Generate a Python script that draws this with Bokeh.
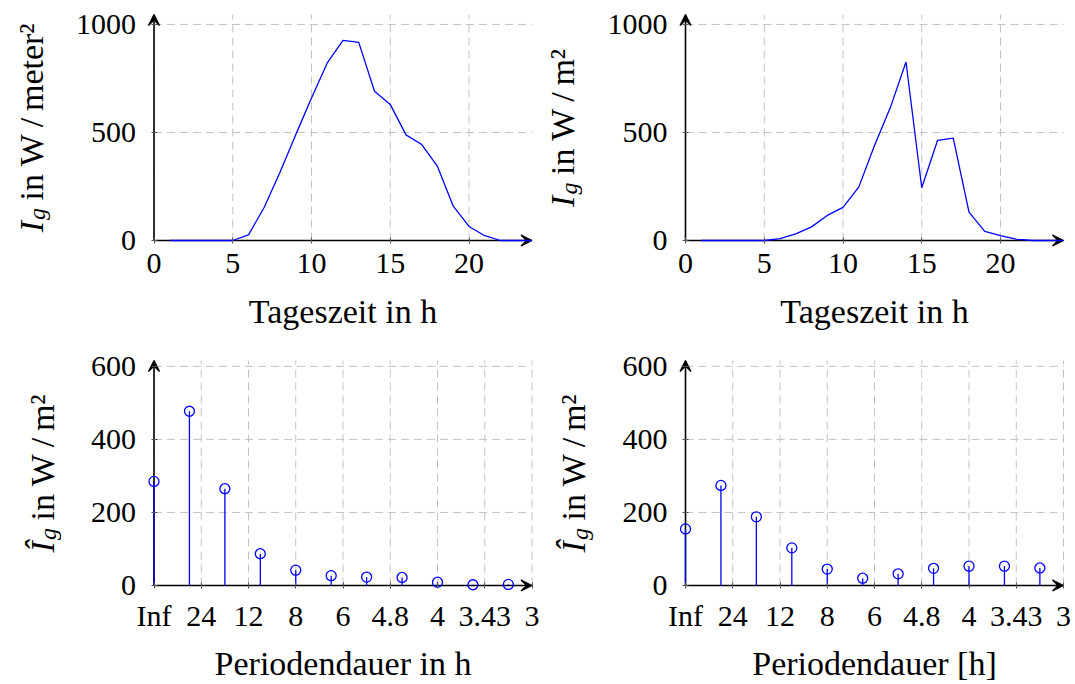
import math
from bokeh.plotting import figure
from bokeh.layouts import column, row
from bokeh.models import Label, Arrow, VeeHead, FixedTicker, Range1d
from bokeh.embed import file_html
from bokeh.resources import INLINE

# ---------------- data ----------------
hours = list(range(1, 25))
irr_clear = [0, 0, 0, 0, 0, 26, 154, 316, 490, 660, 822, 926, 917, 691, 630, 489, 444, 343, 159, 65, 22, 0, 0, 0]
irr_cloudy = [0, 0, 0, 0, 0, 9, 31, 63, 116, 153, 247, 440, 614, 826, 244, 463, 474, 131, 42, 23, 6, 0, 0, 0]

stem_freq = [0.0, 0.03125, 0.0625, 0.09375, 0.125, 0.15625, 0.1875, 0.21875, 0.25, 0.28125, 0.3125]
amp_clear = [285, 477, 265, 87, 42, 27, 23, 22, 9, 2, 3]
amp_cloudy = [155, 274, 188, 103, 45, 20, 32, 47, 53, 53, 48]

time_ticks = [0, 5, 10, 15, 20]
irr_ticks = [0, 500, 1000]
amp_ticks = [0, 200, 400, 600]
period_ticks = [0.0, 1 / 24, 2 / 24, 3 / 24, 4 / 24, 5 / 24, 6 / 24, 7 / 24, 8 / 24]
period_labels = ["Inf", "24", "12", "8", "6", "4.8", "4", "3.43", "3"]

# ---------------- style ----------------
FONT = "Liberation Serif"
TICK_SIZE = "30px"
LABEL_SIZE = 34
BLUE = "#0000ff"
GRID = "#c2c2c2"
THIN = "\u2009"
BASE_FIX = 12  # empirical offset between requested and rendered text baseline

# approximate advance widths (per 1000 em) to lay out the composite y labels
ROMAN_W = {" ": 250, "i": 278, "n": 500, "W": 944, "/": 278, "m": 778, "e": 444,
           "t": 278, "r": 333, "\u00b2": 300, THIN: 203}


def text_width(s, size):
    return sum(ROMAN_W.get(c, 500) for c in s) * size / 1000.0


def panel(cw, ch, ox, oy, axis_w, axis_h, xmax, ymax, xticks, yticks):
    """cw, ch: canvas size; ox, oy: canvas pixel of the data origin (oy from top);
    axis_w, axis_h: pixel size of the data area."""
    sx = axis_w / xmax
    sy = axis_h / ymax
    xr = Range1d(-ox / sx, (cw - ox) / sx)
    yr = Range1d(-(ch - oy) / sy, oy / sy)
    p = figure(width=cw, height=ch, x_range=xr, y_range=yr,
               output_backend="svg", toolbar_location=None,
               min_border_left=0, min_border_right=0, min_border_top=0, min_border_bottom=0)
    p.outline_line_color = None
    p.background_fill_color = "white"
    p.border_fill_color = "white"
    p.grid.visible = False

    # dashed grid restricted to the data area
    p.segment(x0=xticks, y0=0, x1=xticks, y1=ymax, line_color=GRID, line_dash="8 5",
              line_width=1, level="underlay")
    p.segment(x0=0, y0=yticks, x1=xmax, y1=yticks, line_color=GRID, line_dash="8 5",
              line_width=1, level="underlay")

    p.xaxis.ticker = FixedTicker(ticks=xticks)
    p.yaxis.ticker = FixedTicker(ticks=yticks)
    p.xaxis.fixed_location = 0
    p.yaxis.fixed_location = 0
    p.xaxis.bounds = (0, xmax * 1.0001)
    p.yaxis.bounds = (0, ymax)
    for ax in (p.xaxis, p.yaxis):
        ax.axis_line_color = None
        ax.major_tick_line_color = "#555555"
        ax.major_tick_in = 3
        ax.major_tick_out = 3
        ax.minor_tick_line_color = None
        ax.major_label_text_font = FONT
        ax.major_label_text_font_size = TICK_SIZE
        ax.major_label_text_color = "black"
    p.xaxis.major_label_standoff = 10
    p.yaxis.major_label_standoff = 15

    head = dict(size=11, line_color="black", fill_color="black", line_width=1.3)
    p.add_layout(Arrow(end=VeeHead(**head), x_start=0, y_start=0, x_end=xmax, y_end=0,
                       line_color="black", line_width=1.6, level="underlay"))
    p.add_layout(Arrow(end=VeeHead(**head), x_start=0, y_start=0, x_end=0, y_end=ymax,
                       line_color="black", line_width=1.6, level="underlay"))
    return p


def add_labels(p, ox, oy, ch, axis_w, axis_h, xlabel, xlabel_base, sym, unit_text, ylabel_dx):
    # x label: centred under the data area, baseline xlabel_base px below the x axis
    p.add_layout(Label(x=ox + axis_w / 2, y=ch - oy - xlabel_base + BASE_FIX,
                       x_units="screen", y_units="screen",
                       text=xlabel, text_align="center", text_baseline="alphabetic",
                       text_font=FONT, text_font_size=f"{LABEL_SIZE}px", text_color="black"))
    sub_size = round(LABEL_SIZE * 0.7)
    w_sym = 0.333 * LABEL_SIZE
    w_sub = 0.5 * sub_size
    w_space = 0.25 * LABEL_SIZE
    main = "in W" + THIN + "/" + THIN + unit_text
    w_main = text_width(main, LABEL_SIZE)
    total = w_sym + w_sub + w_space + w_main
    centre = (ch - oy) + axis_h / 2
    y0 = centre - total / 2
    bx = ox - ylabel_dx - BASE_FIX
    common = dict(x_units="screen", y_units="screen", angle=math.pi / 2, text_align="left",
                  text_baseline="alphabetic", text_font=FONT, text_color="black")
    p.add_layout(Label(x=bx, y=y0, text=sym, text_font_style="italic",
                       text_font_size=f"{LABEL_SIZE}px", **common))
    p.add_layout(Label(x=bx + 6, y=y0 + w_sym + 1, text="g", text_font_style="italic",
                       text_font_size=f"{sub_size}px", **common))
    p.add_layout(Label(x=bx, y=y0 + w_sym + w_sub + w_space, text=main,
                       text_font_size=f"{LABEL_SIZE}px", **common))


LW, RW = 540, 535
TH, BH = 340, 344
AW = 378             # data-area width
TAH, BAH = 226, 225  # data-area heights
LOX, ROX = 153.5, 145.0
TOY, BOY = 240.0, 245.0

# ---- top left ----
p1 = panel(LW, TH, LOX, TOY, AW, TAH, 24, 1046, time_ticks, irr_ticks)
p1.line(hours, irr_clear, line_color=BLUE, line_width=1.3)
add_labels(p1, LOX, TOY, TH, AW, TAH, "Tageszeit in h", 83, "I", "meter\u00b2", 111)

# ---- top right ----
p2 = panel(RW, TH, ROX, TOY, AW, TAH, 24, 1046, time_ticks, irr_ticks)
p2.line(hours, irr_cloudy, line_color=BLUE, line_width=1.3)
add_labels(p2, ROX, TOY, TH, AW, TAH, "Tageszeit in h", 83, "I", "m\u00b2", 111)

# ---- bottom left ----
p3 = panel(LW, BH, LOX, BOY, AW, BAH, 8 / 24, 616, period_ticks, amp_ticks)
p3.xaxis.major_label_overrides = {t: s for t, s in zip(period_ticks, period_labels)}
p3.segment(x0=stem_freq, y0=0, x1=stem_freq, y1=amp_clear, line_color=BLUE, line_width=1.3)
p3.scatter(stem_freq, amp_clear, marker="circle", size=10, fill_color=None, line_color=BLUE, line_width=1.3)
add_labels(p3, LOX, BOY, BH, AW, BAH, "Periodendauer in h", 90, "\u00ce", "m\u00b2", 100)

# ---- bottom right ----
p4 = panel(RW, BH, ROX, BOY, AW, BAH, 8 / 24, 616, period_ticks, amp_ticks)
p4.xaxis.major_label_overrides = {t: s for t, s in zip(period_ticks, period_labels)}
p4.segment(x0=stem_freq, y0=0, x1=stem_freq, y1=amp_cloudy, line_color=BLUE, line_width=1.3)
p4.scatter(stem_freq, amp_cloudy, marker="circle", size=10, fill_color=None, line_color=BLUE, line_width=1.3)
add_labels(p4, ROX, BOY, BH, AW, BAH, "Periodendauer [h]", 90, "\u00ce", "m\u00b2", 100)

layout = column(row(p1, p2), row(p3, p4))
open("out.html", "w").write(file_html(layout, INLINE))
